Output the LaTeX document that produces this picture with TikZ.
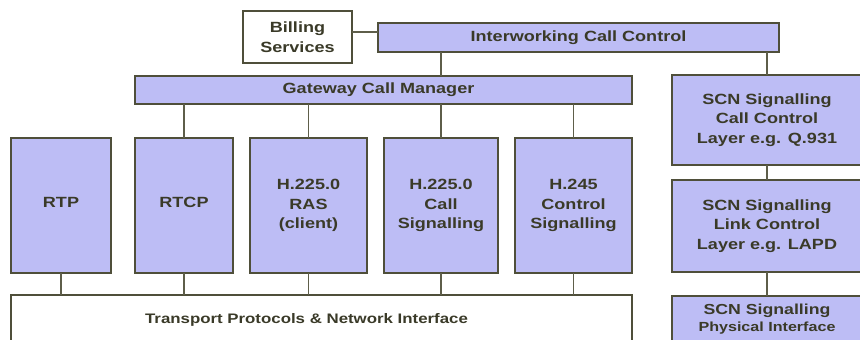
\documentclass[tikz,border=0pt]{standalone}
\usepackage{fontspec}
\setmainfont{Liberation Sans}[FakeStretch=1.22]
\definecolor{boxfill}{HTML}{BDBDF5}
\definecolor{edge}{HTML}{4F4F3A}
\definecolor{wire}{HTML}{5E5E4A}
\definecolor{ink}{HTML}{3A3A28}
\begin{document}
\begin{tikzpicture}[x=1pt,y=-1pt,
  blk/.style={draw=edge, line width=1.4pt, fill=boxfill, anchor=north west,
    inner sep=0pt, outer sep=0pt, align=center, text=ink,
    font=\fontsize{14.8}{19.5}\selectfont\bfseries},
  wbox/.style={blk, fill=white},
  wire/.style={draw=wire, line width=1.3pt}]
\useasboundingbox (0,0) rectangle (860,340);
\clip (0,0) rectangle (860,340);
\fill[white] (0,0) rectangle (860,340);
% top
\node[wbox, minimum width=109pt, minimum height=52pt] (bill) at (243,11) {Billing\\Services};
\node[blk, minimum width=401pt, minimum height=29pt] (iw) at (378,23) {Interworking Call Control};
\node[blk, minimum width=497pt, minimum height=28pt] (gw) at (135,76) {Gateway Call Manager\hspace*{10pt}};
% protocol boxes
\node[blk, minimum width=100pt, minimum height=135pt] (rtp) at (11,138) {\raisebox{7pt}{RTP}};
\node[blk, minimum width=98pt, minimum height=135pt] (rtcp) at (135,138) {\raisebox{7pt}{RTCP}};
\node[blk, minimum width=117pt, minimum height=135pt] (ras) at (250,138) {H.225.0\\RAS\\(client)};
\node[blk, minimum width=114pt, minimum height=135pt] (cs) at (384,138) {H.225.0\\Call\\Signalling};
\node[blk, minimum width=117pt, minimum height=135pt] (h245) at (515,138) {H.245\\Control\\Signalling};
% transport
\node[wbox, minimum width=621pt, minimum height=50pt, font=\fontsize{13.8}{17}\selectfont\bfseries] (tp) at (11,295) {Transport Protocols \& Network Interface\hspace*{30pt}};
% SCN column
\node[blk, minimum width=190pt, minimum height=90pt] (scn1) at (672,75) {SCN Signalling\\Call Control\\Layer e.g. Q.931};
\node[blk, minimum width=190pt, minimum height=92pt] (scn2) at (672,180) {SCN Signalling\\Link Control\\Layer e.g. LAPD};
\node[blk, minimum width=190pt, minimum height=46pt, font=\fontsize{14.5}{17}\selectfont\bfseries] (scn3) at (672,296) {SCN Signalling\\{\fontsize{13.2}{17}\selectfont Physical Interface}};
% connectors
\draw[wire] ([yshift=5pt]bill.east) -- ([yshift=5pt]bill.east -| iw.west);
\draw[wire] (cs.north |- iw.south) -- (cs.north |- gw.north);
\draw[wire] (scn1.north |- iw.south) -- (scn1.north);
\foreach \b in {rtcp,ras,cs,h245} {
  \draw[wire] (\b.north |- gw.south) -- (\b.north);
}
\foreach \b in {rtp,rtcp,ras,cs,h245} {
  \draw[wire] (\b.south) -- (\b.south |- tp.north);
}
\draw[wire] (scn1.south) -- (scn2.north);
\draw[wire] (scn2.south) -- (scn3.north);
\end{tikzpicture}
\end{document}
